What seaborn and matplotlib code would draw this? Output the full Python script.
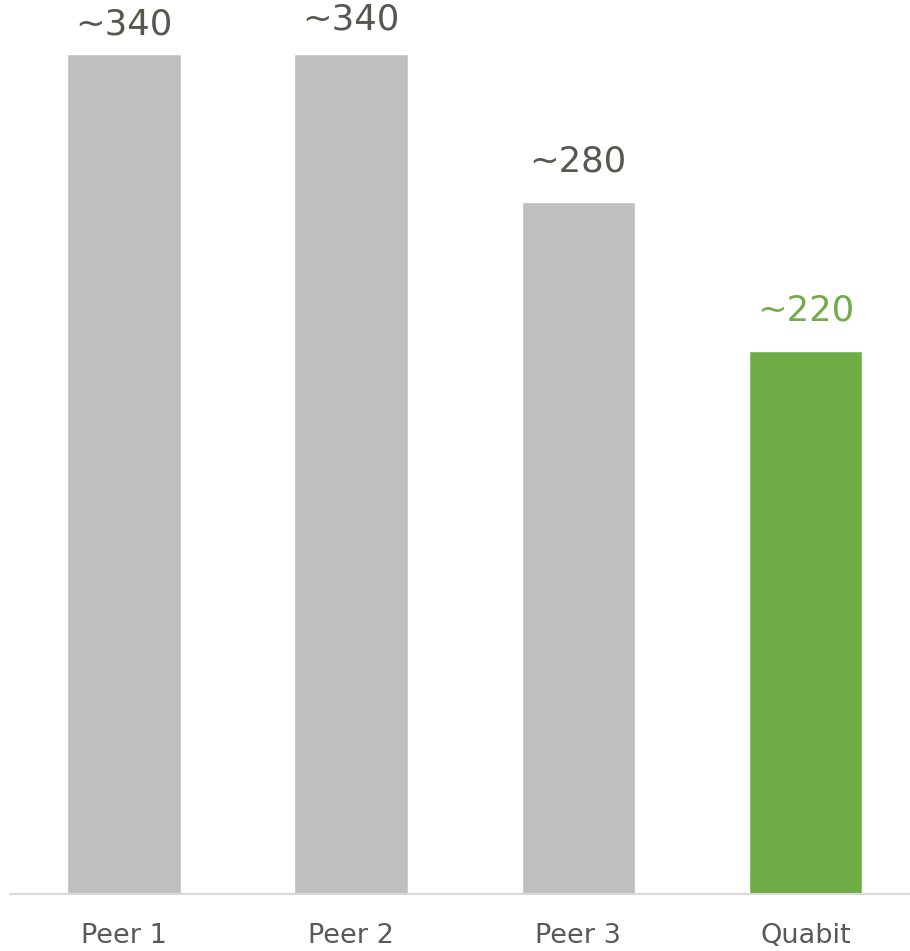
import matplotlib
matplotlib.use("Agg")
import matplotlib.pyplot as plt
import seaborn as sns
import pandas as pd

categories = ["Peer 1", "Peer 2", "Peer 3", "Quabit"]
values = [340, 340, 280, 220]
value_labels = ["~340", "~340", "~280", "~220"]

colors = ["#BFBFBF", "#BFBFBF", "#BFBFBF", "#70AD47"]
label_colors = ["#595650", "#595650", "#595650", "#70AD47"]
label_offsets_px = [13, 18, 24, 23]

sns.set_theme(style="white")
plt.rcParams["font.family"] = ["DejaVu Sans"]

df = pd.DataFrame({"category": categories, "value": values})

W, H = 910, 951
fig = plt.figure(figsize=(W / 100, H / 100), dpi=100)
ax = fig.add_axes([10 / W, 1 - 894 / H, 1 - 10 / W, 894 / H])

sns.barplot(data=df, x="category", y="value", hue="category", palette=colors,
            width=0.5, legend=False, ax=ax, saturation=1)

ax.set_xlim(-0.502, 3.46)
ax.set_ylim(0, 894 / 2.47)

for i, (v, lab) in enumerate(zip(values, value_labels)):
    ax.annotate(lab, xy=(i, v), xytext=(0, label_offsets_px[i] * 72 / 100),
                textcoords="offset points", ha="center", va="bottom",
                fontsize=25.5, color=label_colors[i], annotation_clip=False)

for s in ["top", "right", "left"]:
    ax.spines[s].set_visible(False)
ax.spines["bottom"].set_color("#D9D9D9")
ax.spines["bottom"].set_linewidth(1.5)
ax.set_yticks([])
ax.set_xlabel("")
ax.set_ylabel("")
ax.tick_params(axis="x", length=0, pad=21, labelsize=19.5, labelcolor="#595959")

fig.savefig("out.png", dpi=100)
